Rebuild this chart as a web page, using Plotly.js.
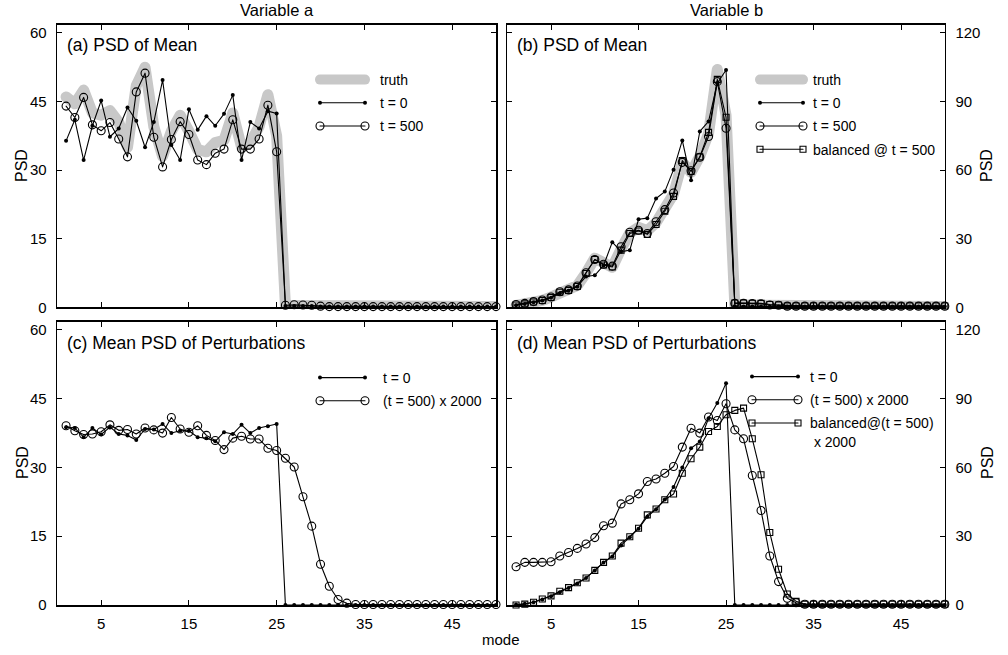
<!DOCTYPE html>
<html>
<head>
<meta charset="utf-8">
<script src="https://cdn.plot.ly/plotly-3.0.1.min.js"></script>
<style>
html,body{margin:0;padding:0;background:#fff;}
#chart{width:1008px;height:655px;}
</style>
</head>
<body>
<div id="chart"></div>
<script>
// ---------- data ----------
const modes = Array.from({length: 50}, (_, i) => i + 1);
const xTicks = [5, 15, 25, 35, 45];
const yTicksLeft = [0, 15, 30, 45, 60];
const yTicksRight = [0, 30, 60, 90, 120];

// (a) Variable a, PSD of Mean
const truthA = [46.0,44.5,47.5,42.5,42.0,43.0,40.5,35.0,48.5,52.5,39.5,33.0,38.5,42.0,38.5,34.5,34.0,36.0,36.5,42.5,35.0,36.0,39.5,46.5,37.5,
  0.4,0.4,0.4,0.35,0.3,0.2,0.2,0.2,0.2,0.2,0.2,0.2,0.2,0.2,0.2,0.2,0.2,0.2,0.2,0.2,0.2,0.2,0.2,0.2,0.2];
const t0A = [36.4,41.0,32.2,39.7,45.2,37.3,39.1,43.7,40.8,35.0,40.5,49.7,35.5,32.2,43.3,38.8,41.8,39.7,42.3,46.4,32.2,40.5,39.1,42.9,42.4,
  0.3,0.3,0.3,0.3,0.2,0.15,0.15,0.15,0.15,0.15,0.15,0.15,0.15,0.15,0.15,0.15,0.15,0.15,0.15,0.15,0.15,0.15,0.15,0.15,0.15];
const t500A = [44.0,41.5,45.9,39.9,38.6,40.4,36.8,32.9,47.1,51.2,37.2,30.7,36.7,40.6,37.8,32.2,31.2,33.7,34.6,41.0,34.6,34.6,36.8,44.2,34.0,
  0.45,0.55,0.5,0.45,0.25,0.15,0.15,0.15,0.15,0.15,0.15,0.15,0.15,0.15,0.15,0.15,0.15,0.15,0.15,0.15,0.15,0.15,0.15,0.15,0.15];

// (b) Variable b, PSD of Mean
const truthB = [0.8,1.3,2.0,3.0,4.5,6.0,7.5,9.5,15.0,21.5,19.5,17.5,25.5,32.5,35.0,33.5,37.0,42.5,49.5,63.5,59.0,66.0,76.0,104.0,84.0,
  1.0,1.0,0.8,0.8,0.6,0.4,0.4,0.4,0.4,0.4,0.4,0.4,0.4,0.4,0.4,0.4,0.4,0.4,0.4,0.4,0.4,0.4,0.4,0.4,0.4];
const t0B = [0.9,1.4,2.2,3.0,4.2,6.0,7.2,9.0,13.5,14.0,18.3,28.5,24.3,25.0,38.5,39.0,47.6,50.6,60.2,73.0,55.6,76.9,81.3,98.0,103.8,
  0.5,0.4,0.4,0.4,0.4,0.3,0.3,0.3,0.3,0.3,0.3,0.3,0.3,0.3,0.3,0.3,0.3,0.3,0.3,0.3,0.3,0.3,0.3,0.3,0.3];
const t500B = [1.2,1.7,2.5,3.2,4.5,6.8,7.6,9.3,15.1,20.9,18.8,18.0,26.5,32.8,33.7,32.3,37.4,42.7,50.0,63.4,59.7,65.6,74.7,98.7,78.3,
  1.7,1.7,1.6,1.5,1.0,0.9,0.5,0.5,0.5,0.5,0.5,0.5,0.5,0.5,0.5,0.5,0.5,0.5,0.5,0.5,0.5,0.5,0.5,0.5,0.5];
const balB = [1.0,1.5,2.3,3.0,4.3,6.6,7.4,9.1,14.8,20.9,18.5,17.6,25.0,32.3,33.4,31.9,36.2,42.0,48.5,64.2,59.4,65.8,76.5,99.7,83.1,
  1.9,1.9,1.8,1.7,1.2,1.0,0.6,0.6,0.6,0.6,0.6,0.6,0.6,0.6,0.6,0.6,0.6,0.6,0.6,0.6,0.6,0.6,0.6,0.6,0.6];

// (c) Variable a, Mean PSD of Perturbations
const t0C = [38.8,38.6,36.6,38.6,37.2,38.8,37.3,37.0,36.0,38.4,38.3,39.5,37.5,38.0,38.0,36.6,36.4,35.7,37.7,37.3,39.3,37.5,38.6,39.0,39.5,
  0,0,0,0,0,0,0,0,0,0,0,0,0,0,0,0,0,0,0,0,0,0,0,0,0];
const t500C = [39.1,38.0,37.2,37.3,37.8,39.3,38.1,38.3,37.3,38.6,38.2,37.5,40.9,38.4,37.7,39.1,37.0,35.9,33.9,36.4,36.8,36.2,36.2,34.2,33.7,
  32.0,30.1,23.6,17.2,8.9,4.1,1.2,0.4,0.1,0.1,0.1,0.1,0.1,0.1,0.1,0.1,0.1,0.1,0.1,0.1,0.1,0.1,0.1,0.1,0.1];

// (d) Variable b, Mean PSD of Perturbations
const t0D = [0.2,0.5,1.2,2.4,3.8,5.6,7.4,9.4,11.8,15.0,18.5,21.2,26.0,29.6,33.3,38.5,41.8,46.0,51.5,60.0,68.4,71.3,81.5,88.1,96.8,
  0,0,0,0,0,0,0,0,0,0,0,0,0,0,0,0,0,0,0,0,0,0,0,0,0];
const t500D = [16.7,18.6,18.6,18.6,18.9,21.4,22.9,24.7,26.6,29.4,34.6,35.7,44.1,45.9,48.5,53.9,55.0,57.5,60.4,68.9,77.1,75.0,82.0,80.5,87.8,
  76.4,72.5,56.5,41.2,21.4,10.2,2.9,1.0,0.3,0.3,0.3,0.3,0.3,0.3,0.3,0.3,0.3,0.3,0.3,0.3,0.3,0.3,0.3,0.3,0.3];
const balD = [0.0,0.4,1.2,2.6,4.0,6.0,7.6,9.7,11.8,15.1,18.6,21.4,27.0,29.8,33.5,39.3,41.9,45.9,48.4,57.5,63.8,68.9,75.7,77.9,83.0,
  84.9,85.9,72.5,56.8,31.6,15.6,4.8,1.6,0.3,0.3,0.3,0.3,0.3,0.3,0.3,0.3,0.3,0.3,0.3,0.3,0.3,0.3,0.3,0.3,0.3];

// ---------- styles ----------
const W = 1008, H = 655;
const FONT = 'Liberation Sans, Arial, Helvetica, sans-serif';
const GRAY = '#c8c8c8';
const styTruth = {mode: 'lines', line: {color: GRAY, width: 11}};
const styT0 = {mode: 'lines+markers', line: {color: '#000', width: 1.1}, marker: {symbol: 'circle', size: 4, color: '#000'}};
const styCirc = {mode: 'lines+markers', line: {color: '#000', width: 1.1}, marker: {symbol: 'circle-open', size: 8, color: '#000', line: {width: 1.1}}};
const stySq = {mode: 'lines+markers', line: {color: '#000', width: 1.1}, marker: {symbol: 'square-open', size: 6, color: '#000', line: {width: 1.1}}};

let gid = 0;
function tr(y, sty, name, xa, ya, leg) {
  gid += 1;
  return Object.assign({x: modes, y: y, name: name, xaxis: xa, yaxis: ya, legend: leg, legendgroup: 'g' + gid,
    cliponaxis: false, hoverinfo: 'skip'}, JSON.parse(JSON.stringify(sty)));
}

const data = [
  tr(truthA, styTruth, 'truth', 'x', 'y', 'legend'),
  tr(t0A, styT0, 't = 0', 'x', 'y', 'legend'),
  tr(t500A, styCirc, 't = 500', 'x', 'y', 'legend'),

  tr(truthB, styTruth, 'truth', 'x2', 'y2', 'legend2'),
  tr(t0B, styT0, 't = 0', 'x2', 'y2', 'legend2'),
  tr(t500B, styCirc, 't = 500', 'x2', 'y2', 'legend2'),
  tr(balB, stySq, 'balanced @ t = 500', 'x2', 'y2', 'legend2'),

  tr(t0C, styT0, 't = 0', 'x3', 'y3', 'legend3'),
  tr(t500C, styCirc, '(t = 500) x 2000', 'x3', 'y3', 'legend3'),

  tr(t0D, styT0, 't = 0', 'x4', 'y4', 'legend4'),
  tr(t500D, styCirc, '(t = 500) x 2000', 'x4', 'y4', 'legend4'),
  tr(balD, stySq, 'balanced@(t = 500)<br> x 2000', 'x4', 'y4', 'legend4')
];

// ---------- layout ----------
const px = v => v / W;
const py = v => 1 - v / H;
const xDomL = [px(57.3), px(496)];
const xDomR = [px(507.3), px(944.8)];
const yDomT = [py(307.3), py(24.7)];
const yDomB = [py(605), py(321.7)];

const axBase = {
  showline: true, linecolor: '#000', linewidth: 1.6, mirror: 'ticks',
  ticks: 'inside', ticklen: 5, tickwidth: 1, tickcolor: '#000',
  showgrid: false, zeroline: false, fixedrange: true,
  tickfont: {family: FONT, size: 15, color: '#000'}
};
function xa(dom, anchor, labels) {
  return Object.assign({}, axBase, {domain: dom, anchor: anchor, range: [0, 50], tickmode: 'array', tickvals: xTicks, showticklabels: labels, ticklabelstandoff: 4});
}
function ya(dom, anchor, top, ticks, side) {
  return Object.assign({}, axBase, {domain: dom, anchor: anchor, range: [0, top], tickmode: 'array', tickvals: ticks, side: side,
    ticklabelstandoff: 6});
}
// legend sample geometry: line length L (px), gap G between line end and text
const legendGeom = {legend: {L: 45, G: 15}, legend2: {L: 43, G: 10}, legend3: {L: 45, G: 18}, legend4: {L: 46, G: 12}};
function leg(id, xPix, yPix) {
  const g = legendGeom[id];
  return {x: px(xPix), y: py(yPix), xanchor: 'left', yanchor: 'top', bgcolor: 'rgba(0,0,0,0)', borderwidth: 0,
    font: {family: FONT, size: 14, color: '#000'}, itemwidth: g.L + g.G - 5, tracegroupgap: 2, valign: 'top',
    itemclick: false, itemdoubleclick: false};
}
function ann(text, xPix, yPix, xanchor, size, angle) {
  return {text: text, xref: 'paper', yref: 'paper', x: px(xPix), y: py(yPix), xanchor: xanchor, yanchor: 'middle', showarrow: false,
    textangle: angle || 0, font: {family: FONT, size: size, color: '#000'}};
}

const layout = {
  width: W, height: H,
  margin: {l: 0, r: 0, t: 0, b: 0},
  paper_bgcolor: '#fff', plot_bgcolor: '#fff',
  showlegend: true,
  font: {family: FONT, color: '#000'},
  xaxis: xa(xDomL, 'y', false),
  xaxis2: xa(xDomR, 'y2', false),
  xaxis3: xa(xDomL, 'y3', true),
  xaxis4: xa(xDomR, 'y4', true),
  yaxis: ya(yDomT, 'x', 61.8, yTicksLeft, 'left'),
  yaxis2: ya(yDomT, 'x2', 123.6, yTicksRight, 'right'),
  yaxis3: ya(yDomB, 'x3', 61.8, yTicksLeft, 'left'),
  yaxis4: ya(yDomB, 'x4', 123.6, yTicksRight, 'right'),
  legend: leg('legend', 315, 64),
  legend2: leg('legend2', 755, 64),
  legend3: leg('legend3', 315, 362),
  legend4: leg('legend4', 747, 361),
  annotations: [
    ann('Variable a', 276.6, 10, 'center', 16.5),
    ann('Variable b', 726, 10, 'center', 16.5),
    ann('mode', 501, 639, 'center', 15),
    ann('PSD', 22, 166, 'center', 16, -90),
    ann('PSD', 22, 463, 'center', 16, -90),
    ann('PSD', 987, 166, 'center', 16, -90),
    ann('PSD', 987, 463, 'center', 16, -90),
    ann('(a) PSD of Mean', 65, 45, 'left', 17.5),
    ann('(b) PSD of Mean', 515, 45, 'left', 17.5),
    ann('(c) Mean PSD of Perturbations', 65, 343, 'left', 17.5),
    ann('(d) Mean PSD of Perturbations', 515, 343, 'left', 17.5)
  ]
};

function styleLegends() {
  Object.keys(legendGeom).forEach(id => {
    const g = legendGeom[id];
    document.querySelectorAll('g.' + id + ' g.traces').forEach(item => {
      item.querySelectorAll('path.js-line').forEach(p => {
        p.setAttribute('d', 'M5,0h' + g.L);
      });
      item.querySelectorAll('path.scatterpts').forEach(p => {
        p.setAttribute('transform', 'translate(5,0)');
        const c = p.cloneNode(true);
        c.setAttribute('transform', 'translate(' + (5 + g.L) + ',0)');
        p.parentNode.appendChild(c);
      });
    });
  });
}

Plotly.newPlot('chart', data, layout, {staticPlot: true, displayModeBar: false}).then(() => {
  document.querySelectorAll('.scatterlayer path.js-line, .infolayer path.js-line').forEach(p => {
    p.style.strokeLinejoin = 'round';
    p.style.strokeLinecap = 'round';
  });
  styleLegends();
});
</script>
</body>
</html>
